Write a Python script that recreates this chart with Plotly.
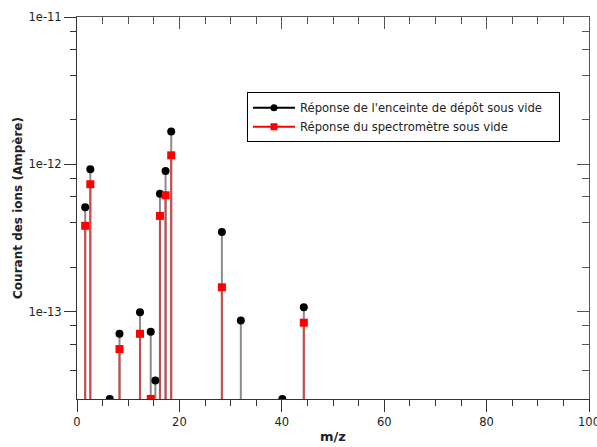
import plotly.graph_objects as go

# Data (m/z, ion current in A)
mz_chamber = [1.6, 2.6, 6.4, 8.3, 12.3, 14.4, 15.3, 16.2, 17.3, 18.4, 28.3, 32.0, 40.1, 44.3]
cur_chamber = [5.1e-13, 9.25e-13, 2.55e-14, 7.06e-14, 9.9e-14, 7.3e-14, 3.4e-14, 6.3e-13, 9.0e-13,
               1.67e-12, 3.47e-13, 8.7e-14, 2.55e-14, 1.07e-13]
mz_spectro = [1.6, 2.6, 8.3, 12.3, 14.4, 16.2, 17.3, 18.4, 28.3, 44.3]
cur_spectro = [3.82e-13, 7.32e-13, 5.56e-14, 7.06e-14, 2.55e-14, 4.46e-13, 6.16e-13, 1.15e-12,
               1.46e-13, 8.4e-14]

name_chamber = "Réponse de l'enceinte de dépôt sous vide"
name_spectro = "Réponse du spectromètre sous vide"

y_tickvals = [1e-13, 1e-12, 1e-11]
y_ticktext = ["1e-13", "1e-12", "1e-11"]
y_minor = [m * 10.0 ** e for e in (-14, -13, -12) for m in (2, 4, 6, 8)]

BASE = 1e-16
YRANGE = [-13.594, -11]
XRANGE = [0, 100]
FONT = "DejaVu Sans"


def stems(xs, ys):
    sx, sy = [], []
    for x, y in zip(xs, ys):
        sx += [x, x, None]
        sy += [BASE, y, None]
    return sx, sy


fig = go.Figure()

sx, sy = stems(mz_chamber, cur_chamber)
fig.add_trace(go.Scatter(x=sx, y=sy, mode="lines", line=dict(color="#8c8c8c", width=2),
                         showlegend=False, hoverinfo="skip"))
sx, sy = stems(mz_spectro, cur_spectro)
fig.add_trace(go.Scatter(x=sx, y=sy, mode="lines", line=dict(color="#cc4a4a", width=2),
                         showlegend=False, hoverinfo="skip"))
fig.add_trace(go.Scatter(x=mz_chamber, y=cur_chamber, mode="markers",
                         marker=dict(symbol="circle", size=8, color="black"),
                         showlegend=False))
fig.add_trace(go.Scatter(x=mz_spectro, y=cur_spectro, mode="markers",
                         marker=dict(symbol="square", size=8, color="#ff0000"),
                         showlegend=False))
# legend entries
fig.add_trace(go.Scatter(x=[None], y=[None], mode="lines+markers",
                         name=name_chamber + "\u00a0\u00a0\u00a0",
                         line=dict(color="black", width=2),
                         marker=dict(symbol="circle", size=7, color="black")))
fig.add_trace(go.Scatter(x=[None], y=[None], mode="lines+markers", name=name_spectro,
                         line=dict(color="#ff0000", width=2),
                         marker=dict(symbol="square", size=7, color="#ff0000")))
# invisible trace so the mirror (top/right) axes get drawn with ticks
fig.add_trace(go.Scatter(x=mz_chamber, y=cur_chamber, xaxis="x2", yaxis="y2", mode="markers",
                         marker=dict(opacity=0), showlegend=False, hoverinfo="skip"))

axcol = "#333333"
mcol = "#555555"
fig.update_layout(
    width=597, height=447,
    margin=dict(l=77, r=8, t=17, b=48),
    paper_bgcolor="white", plot_bgcolor="white",
    font=dict(family=FONT, size=11.5, color="#222222"),
    xaxis=dict(range=XRANGE, dtick=20, tick0=0, ticks="outside", ticklen=12, tickwidth=1,
               tickcolor=axcol, showline=True, linecolor=axcol, linewidth=1,
               showgrid=False, zeroline=False, automargin=False, ticklabeloverflow="allow",
               minor=dict(dtick=5, tick0=0, ticks="outside", ticklen=6, tickcolor=axcol, showgrid=False),
               title=dict(text="<b>m/z</b>", font=dict(size=13), standoff=4),
               tickfont=dict(size=11.5)),
    yaxis=dict(type="log", range=YRANGE, tickmode="array", tickvals=y_tickvals, ticktext=y_ticktext,
               ticks="outside", ticklen=12, tickwidth=1, tickcolor=axcol, automargin=False,
               showline=True, linecolor=axcol, linewidth=1, showgrid=False, zeroline=False,
               minor=dict(tickmode="array", tickvals=y_minor, ticks="outside", ticklen=6,
                          tickcolor=axcol, showgrid=False),
               title=dict(text="<b>Courant des ions (Ampère)</b>", font=dict(size=12), standoff=3),
               tickfont=dict(size=11.5)),
    xaxis2=dict(range=XRANGE, overlaying="x", side="top", anchor="y2", dtick=20, tick0=0,
                ticks="inside", ticklen=12, tickwidth=1, tickcolor=mcol, showticklabels=False,
                automargin=False,
                showline=True, linecolor=mcol, linewidth=1, showgrid=False, zeroline=False,
                minor=dict(dtick=5, tick0=0, ticks="inside", ticklen=7, tickcolor=mcol, showgrid=False)),
    yaxis2=dict(type="log", range=YRANGE, overlaying="y", side="right", anchor="x2",
                tickmode="array", tickvals=y_tickvals, ticks="inside", ticklen=12, tickwidth=1,
                automargin=False,
                tickcolor=mcol, showticklabels=False, showline=True, linecolor=mcol,
                linewidth=1, showgrid=False, zeroline=False,
                minor=dict(tickmode="array", tickvals=y_minor, ticks="inside", ticklen=7,
                           tickcolor=mcol, showgrid=False)),
    legend=dict(x=0.332, y=0.803, xanchor="left", yanchor="top", bgcolor="white",
                bordercolor="black", borderwidth=1, font=dict(size=11.6, color="#222222"),
                tracegroupgap=0, itemwidth=42),
)

fig.write_html("out.html", config={"displayModeBar": False},
               post_script="document.body.style.margin='0';")
